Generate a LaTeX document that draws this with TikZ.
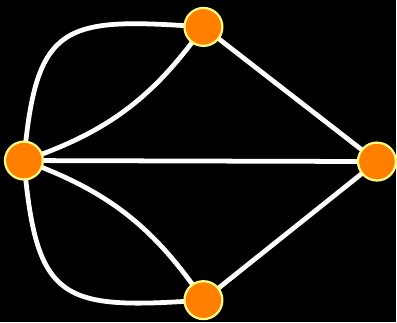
\documentclass[tikz,border=0pt]{standalone}
\usepackage{tikz}
\usetikzlibrary{backgrounds}

\definecolor{vfill}{RGB}{255,128,0}
\definecolor{vline}{RGB}{255,250,130}

\begin{document}
\begin{tikzpicture}[
    vert/.style={circle, draw=vline, line width=1.6pt, fill=vfill, minimum size=0.95cm, inner sep=0pt},
    edge/.style={draw=white, line width=3.4pt}
]
\node[vert] (l) at (0.6,4.05) {};
\node[vert] (t) at (5.1,7.4) {};
\node[vert] (r) at (9.45,4.025) {};
\node[vert] (b) at (5.1,0.55) {};

\begin{scope}[on background layer]
\fill[black] (0,0) rectangle (9.925,8.075);
\draw[edge] (l.center) to[out=85, in=176, looseness=1.6] (t.center);
\draw[edge] (l.center) to[bend right=18] (t.center);
\draw[edge] (l.center) -- (r.center);
\draw[edge] (t.center) -- (r.center);
\draw[edge] (b.center) -- (r.center);
\draw[edge] (l.center) to[bend left=18] (b.center);
\draw[edge] (l.center) to[out=-85, in=184, looseness=1.6] (b.center);
\end{scope}
\useasboundingbox (0,0) rectangle (9.925,8.075);
\end{tikzpicture}
\end{document}
